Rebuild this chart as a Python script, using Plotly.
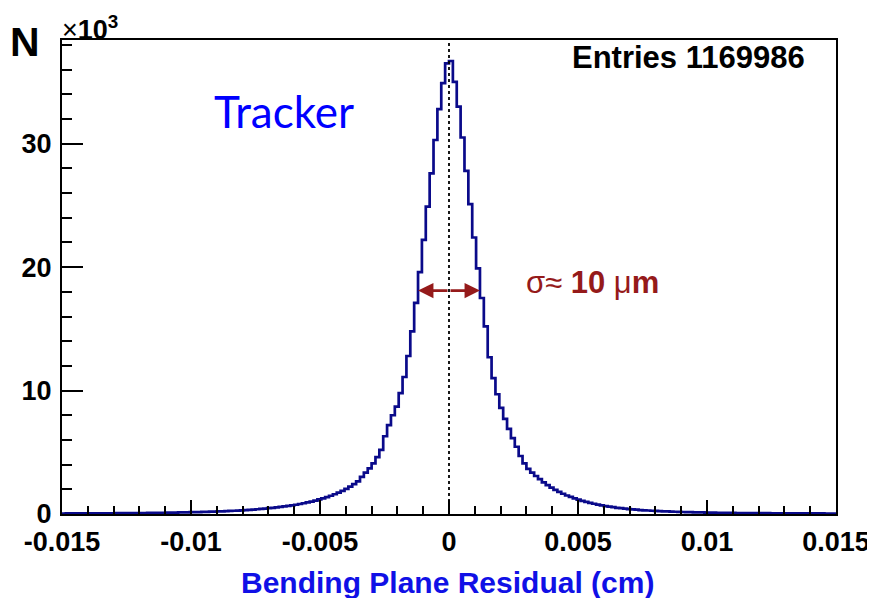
import plotly.graph_objects as go

# Histogram: 200 bins from -0.015 to 0.015 cm, counts in units of 10^3
x_lo, x_hi, n_bins = -0.015, 0.015, 200

# left half (from -0.015 towards 0), values in thousands
left_counts = [
    0.042, 0.043, 0.044, 0.045, 0.047, 0.048, 0.049, 0.051, 0.052, 0.054,
    0.056, 0.058, 0.060, 0.062, 0.064, 0.066, 0.069, 0.071, 0.074, 0.077,
    0.080, 0.083, 0.087, 0.090, 0.094, 0.098, 0.103, 0.108, 0.113, 0.118,
    0.124, 0.130, 0.137, 0.144, 0.152, 0.160, 0.169, 0.178, 0.188, 0.198,
    0.210, 0.220, 0.235, 0.250, 0.265, 0.280, 0.300, 0.320, 0.340, 0.360,
    0.385, 0.410, 0.440, 0.470, 0.500, 0.535, 0.570, 0.610, 0.655, 0.700,
    0.750, 0.810, 0.870, 0.940, 1.010, 1.090, 1.180, 1.270, 1.370, 1.480,
    1.600, 1.730, 1.880, 2.040, 2.220, 2.420, 2.640, 3.000, 3.350, 3.700,
    4.100, 4.600, 5.200, 6.300, 7.200, 8.000, 8.700, 9.800, 11.10, 12.80,
    14.80, 17.10, 19.60, 22.20, 24.90, 27.60, 30.30, 32.80, 34.90, 36.50,
]
# right half (from 0 towards +0.015), values in thousands
right_counts = [
    36.70, 35.00, 33.00, 30.50, 27.80, 25.10, 22.40, 19.90, 17.50, 15.20,
    12.70, 11.00, 9.700, 8.600, 7.700, 6.900, 6.150, 5.450, 4.700, 4.100,
    3.650, 3.350, 3.080, 2.820, 2.560, 2.340, 2.130, 1.950, 1.790, 1.640,
    1.500, 1.380, 1.270, 1.160, 1.070, 0.980, 0.900, 0.830, 0.760, 0.700,
    0.640, 0.590, 0.550, 0.500, 0.470, 0.430, 0.400, 0.370, 0.350, 0.320,
    0.300, 0.285, 0.265, 0.250, 0.235, 0.220, 0.205, 0.195, 0.182, 0.172,
    0.163, 0.154, 0.146, 0.138, 0.131, 0.124, 0.118, 0.113, 0.108, 0.103,
    0.098, 0.094, 0.090, 0.087, 0.083, 0.080, 0.077, 0.074, 0.071, 0.069,
    0.067, 0.065, 0.063, 0.061, 0.059, 0.057, 0.055, 0.054, 0.052, 0.051,
    0.050, 0.048, 0.047, 0.046, 0.045, 0.044, 0.043, 0.042, 0.041, 0.040,
]

x_tick_vals = [-0.015, -0.01, -0.005, 0, 0.005, 0.01, 0.015]
x_tick_text = ["-0.015", "-0.01", "-0.005", "0", "0.005", "0.01", "0.015"]
y_tick_vals = [0, 10, 20, 30]
y_tick_text = ["0", "10", "20", "30"]
y_max = 38.4

entries_text = "Entries 1169986"
sigma_half_width = 0.0012  # cm, arrow half-span
sigma_level = 18.1          # thousands

counts = left_counts + right_counts
bin_w = (x_hi - x_lo) / n_bins
edges = [x_lo + i * bin_w for i in range(n_bins + 1)]

navy = "#0a0a8a"
darkred = "#951a1a"
blue = "#1010e6"
font_family = "Liberation Sans, Arial, sans-serif"

# the page body has an 8 px margin, so the figure is drawn 8 px in and down
OFF = 8
PAGE_W, PAGE_H = 875, 598
FIG_W, FIG_H = PAGE_W - OFF, PAGE_H - OFF
# plot-area geometry in page pixels
L, R, T, B = 62, 836, 40, 514
W, H = R - L, B - T


def px(xp):
    return (xp - L) / W


def py(yp):
    return (B - yp) / H


fig = go.Figure()
fig.add_trace(go.Scatter(
    x=edges, y=counts + [counts[-1]], mode="lines", line_shape="hv",
    line=dict(color=navy, width=2.7), showlegend=False, hoverinfo="skip",
))

fig.update_layout(
    width=FIG_W, height=FIG_H,
    margin=dict(l=L - OFF, r=PAGE_W - R, t=T - OFF, b=PAGE_H - B,
                autoexpand=False),
    paper_bgcolor="white", plot_bgcolor="white",
    font=dict(family=font_family, color="black"),
)

fig.update_xaxes(
    range=[x_lo, x_hi], showgrid=False, zeroline=False, automargin=False,
    showline=True, linecolor="black", linewidth=2, mirror=True,
    ticks="inside", tickvals=x_tick_vals, ticktext=x_tick_text,
    ticklen=14, tickwidth=2, tickcolor="black",
    tickfont=dict(size=27, family=font_family, weight="bold", color="black"),
    ticklabelstandoff=3,
    minor=dict(tickmode="linear", tick0=0, dtick=0.001, ticks="inside",
               ticklen=8, tickwidth=1.5, tickcolor="black"),
)
fig.update_yaxes(
    range=[0, y_max], showgrid=False, zeroline=False, automargin=False,
    showline=True, linecolor="black", linewidth=2, mirror=True,
    ticks="inside", tickvals=y_tick_vals, ticktext=y_tick_text,
    ticklen=21, tickwidth=2, tickcolor="black",
    tickfont=dict(size=27, family=font_family, weight="bold", color="black"),
    ticklabelstandoff=3,
    minor=dict(tickmode="linear", tick0=0, dtick=2, ticks="inside",
               ticklen=10, tickwidth=1.5, tickcolor="black"),
)

# dashed vertical line at 0
fig.add_shape(type="line", x0=0, x1=0, y0=0, y1=y_max, xref="x", yref="y",
              line=dict(color="black", width=1.8, dash="dot"))

# sigma double arrow
for sgn in (-1, 1):
    fig.add_annotation(
        x=sgn * sigma_half_width, y=sigma_level, ax=0, ay=sigma_level,
        xref="x", yref="y", axref="x", ayref="y", text="",
        showarrow=True, arrowhead=2, arrowsize=1.1, arrowwidth=2.8,
        arrowcolor=darkred,
    )

annotations = [
    dict(text="σ≈ <b>10</b> μ<b>m</b>", x=px(592), y=py(282),
         xanchor="center", yanchor="middle",
         font=dict(size=31, color=darkred, family=font_family)),
    dict(text="Tracker", x=px(284), y=py(111),
         xanchor="center", yanchor="middle",
         font=dict(size=44, color="#0000ff", family="Lato, Carlito, sans-serif")),
    dict(text="<b>" + entries_text + "</b>", x=px(688), y=py(58),
         xanchor="center", yanchor="middle",
         font=dict(size=31, color="black", family=font_family)),
    dict(text="<b>N</b>", x=px(25), y=py(42),
         xanchor="center", yanchor="middle",
         font=dict(size=41, color="black", family=font_family)),
    dict(text="×<b>10<sup>3</sup></b>", x=px(60), y=py(28),
         xanchor="left", yanchor="middle",
         font=dict(size=27, color="black", family=font_family)),
    dict(text="<b>Bending Plane Residual (cm)</b>", x=px(447), y=py(582),
         xanchor="center", yanchor="middle",
         font=dict(size=30, color=blue, family=font_family)),
]
for a in annotations:
    fig.add_annotation(xref="paper", yref="paper", showarrow=False, **a)

fig.write_html("out.html")
